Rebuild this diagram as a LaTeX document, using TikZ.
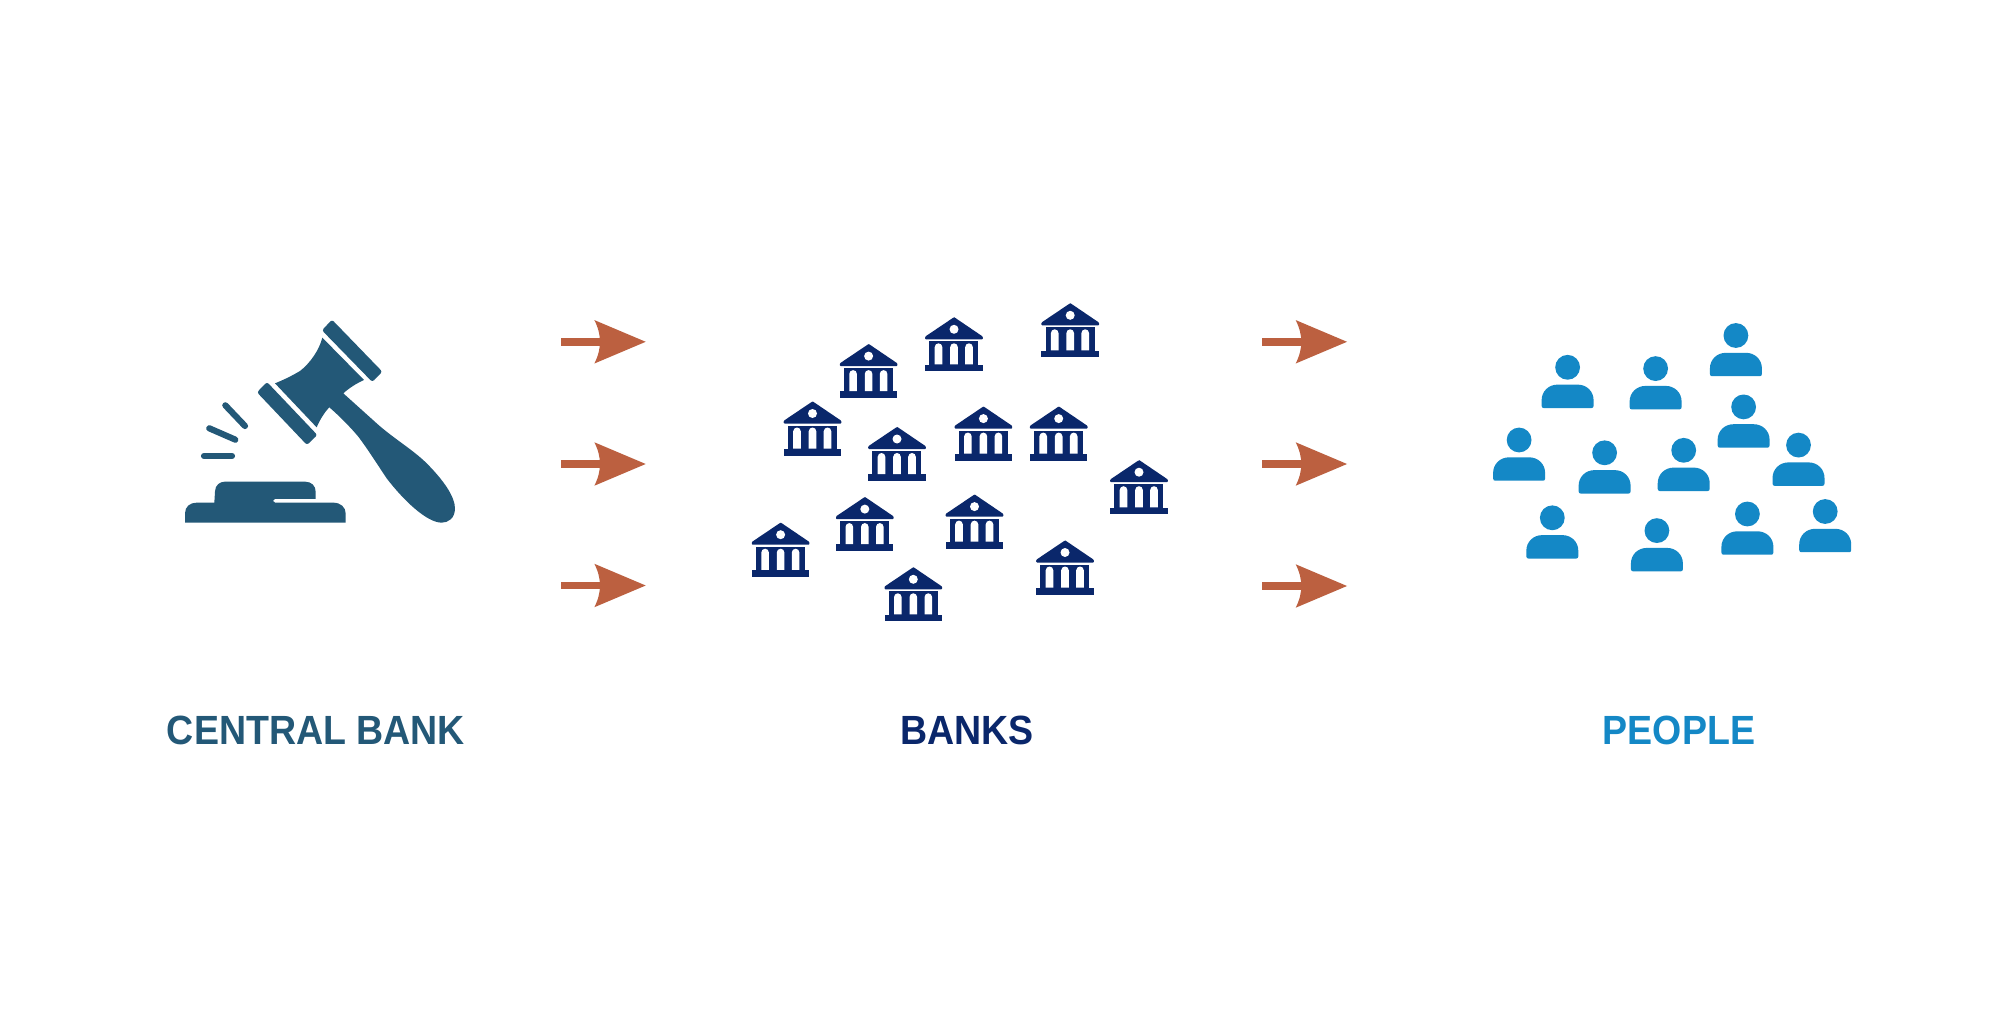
\documentclass[tikz,border=0pt]{standalone}
\usepackage{fontspec}
\setmainfont{Liberation Sans}
\newfontfamily\labelfont[FakeStretch=0.92]{Liberation Sans}
\definecolor{gavelblue}{HTML}{235877}
\definecolor{bankblue}{HTML}{0A276B}
\definecolor{peopleblue}{HTML}{1488C6}
\definecolor{arrowred}{HTML}{BC6040}
\tikzset{
  labeltext/.style={font=\labelfont\bfseries\fontsize{20.4}{24}\selectfont,anchor=center,inner sep=0pt},
  dashmark/.style={line width=3.1pt,line cap=round,draw=gavelblue},
  pics/bankicon/.style={code={
    \fill[bankblue,rounded corners=0.4] (0,-0.4) -- (0.8,0) -- (28.8,19) -- (28.8,21.7) -- (-28.8,21.7) -- (-28.8,19) -- cycle;
    \fill[bankblue] (-24.7,23.7) rectangle (24.3,47.2);
    \fill[bankblue] (-28.8,47) rectangle (28.6,53.7);
    \fill[white] (0,11.7) circle (4.5);
    \foreach \cx in {-15.5,0,15}{
      \fill[white] (\cx-3.8,46.8) -- (\cx-3.8,29.5) arc[start angle=180,end angle=360,radius=3.8] -- (\cx+3.8,46.8) -- cycle;
    }
  }},
  pics/personicon/.style={code={
    \fill[peopleblue] (0,0) circle (12.4);
    \fill[peopleblue] (-26,38.5) -- (-26,33) .. controls (-26,24) and (-19,17.3) .. (-10,17.3) -- (10,17.3) .. controls (19,17.3) and (26,24) .. (26,33) -- (26,38.5) .. controls (26,40) and (25,40.7) .. (24,40.7) -- (-24,40.7) .. controls (-25,40.7) and (-26,40) .. (-26,38.5) -- cycle;
  }},
  pics/flowarrow/.style={code={
    \fill[arrowred] (-85,-3.8) rectangle (-44,3.8);
    \fill[arrowred] (0,0) -- (-51.3,-21.7) .. controls (-47.5,-14) and (-45.7,-7) .. (-45.7,0) .. controls (-45.7,7) and (-47.5,14) .. (-51.3,21.7) -- cycle;
  }}
}
\begin{document}
\begin{tikzpicture}[x=0.5pt,y=-0.5pt]
\useasboundingbox (0,0) rectangle (2000,1010);
\fill[white] (0,0) rectangle (2000,1010);
% gavel, drawn in the coordinates of a 3x crop
\begin{scope}[shift={(160,300)},x=0.5pt/3,y=-0.5pt/3,gavelblue]
  \fill[rounded corners=1.2pt] (516,59) -- (667,215) -- (637,246) -- (486,91) -- cycle;
  \fill[rounded corners=1.2pt] (321,246) -- (472,405) -- (441,435) -- (291,277) -- cycle;
  \fill (487,113) -- (612,240) .. controls (590,250) and (570,262) .. (550,280)
    -- (650,370) .. controls (700,415) and (760,450) .. (800,490)
    .. controls (850,540) and (885,590) .. (885,625)
    .. controls (885,655) and (865,668) .. (845,668)
    .. controls (800,668) and (730,600) .. (680,535)
    .. controls (650,490) and (625,450) .. (595,410)
    .. controls (570,380) and (535,345) .. (508,322)
    .. controls (495,335) and (480,358) .. (470,382)
    -- (345,250) .. controls (370,240) and (395,228) .. (420,213)
    .. controls (450,190) and (478,150) .. (487,113) -- cycle;
  \fill (75,668) -- (75,640) .. controls (75,620) and (90,608) .. (110,608) -- (163,608)
    -- (165,575) .. controls (165,555) and (180,545) .. (195,545) -- (435,545)
    .. controls (455,545) and (467,558) .. (467,575) -- (467,597) -- (345,597)
    .. controls (337,597) and (337,608) .. (345,608) -- (520,608)
    .. controls (542,608) and (557,622) .. (557,640) -- (557,668) -- cycle;
  \draw[dashmark] (196,316) -- (255,378);
  \draw[dashmark] (148,385) -- (226,419);
  \draw[dashmark] (132,468) -- (216,468);
\end{scope}
% arrows
\foreach \nm/\tx/\ty in {a/645.7/341.8,b/645.7/464,c/645.7/585.5,d/1347/341.8,e/1347/464,f/1347/586}{
  \pic (arrow\nm) at (\tx,\ty) {flowarrow};
}
% banks
\foreach \nm/\bx/\by in {a/868.6/344.4,b/954/317.6,c/1070.2/303.6,d/812.5/401.8,e/897/427.3,f/983.4/406.9,g/1058.7/406.9,h/1139/460.5,i/864.8/497.4,j/974.5/494.9,k/780.6/523,l/1065/540.8,m/913.3/567.6}{
  \pic (bank\nm) at (\bx,\by) {bankicon};
}
% people
\foreach \nm/\px/\py in {a/1567.6/367.3,b/1655.6/368.6,c/1735.9/335.5,d/1519.1/440,e/1604.6/452.8,f/1683.7/450.3,g/1743.6/406.9,h/1798.5/445.1,i/1552.3/517.8,j/1656.9/530.6,k/1747.4/514,l/1825.2/511.5}{
  \pic (person\nm) at (\px,\py) {personicon};
}
\node[labeltext,text=gavelblue] (lblcentral) at (316,730) {CENTRAL BANK};
\node[labeltext,text=bankblue] (lblbanks) at (967,730) {BANKS};
\node[labeltext,text=peopleblue] (lblpeople) at (1679,730) {PEOPLE};
\end{tikzpicture}
\end{document}
